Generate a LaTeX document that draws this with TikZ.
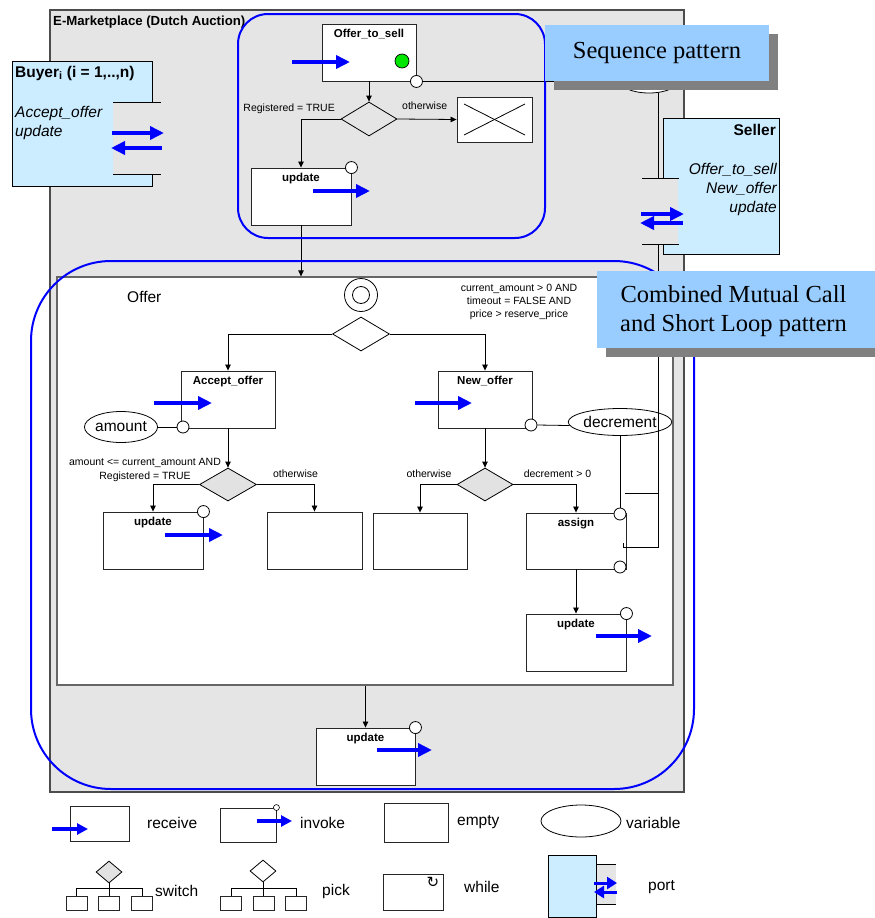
\documentclass[tikz,border=0pt]{standalone}
\usepackage{fontspec}
\setmainfont{Liberation Sans}
\newfontfamily\patternfont{Liberation Serif}
\newfontfamily\glyphfont{DejaVu Sans}
\usetikzlibrary{arrows.meta,shapes.geometric,calc}

\definecolor{areagray}{RGB}{229,229,229}
\definecolor{portblue}{RGB}{204,236,255}
\definecolor{patblue}{RGB}{153,204,255}
\definecolor{shadegray}{RGB}{128,128,128}
\definecolor{okgreen}{RGB}{0,230,0}
\definecolor{switchgray}{RGB}{226,226,226}
\definecolor{msgblue}{RGB}{0,0,255}

\tikzset{
  activitybox/.style={draw=black!85, fill=white, line width=0.9pt, inner sep=0pt},
  boxtitle/.style={font=\fontsize{11.5}{13}\selectfont\bfseries, inner sep=0pt, anchor=base},
  condtext/.style={font=\fontsize{10.5}{13.3}\selectfont, inner sep=0pt, align=center},
  bigtext/.style={font=\fontsize{15.5}{19}\selectfont, inner sep=0pt},
  flowline/.style={draw=black, line width=0.8pt, -{Triangle[length=6pt,width=5.5pt]}},
  linkline/.style={draw=black, line width=0.8pt},
  msgarrow/.style={draw=msgblue, line width=3.5pt, -{Triangle[length=14pt,width=13pt]}},
  portarrow/.style={draw=msgblue, line width=3.8pt, -{Triangle[length=14pt,width=13pt]}},
  smallarrow/.style={draw=msgblue, line width=3.2pt, -{Triangle[length=11pt,width=11pt]}},
  tinyarrow/.style={draw=msgblue, line width=3pt, -{Triangle[length=10pt,width=12pt]}},
  handlecirc/.style={circle, draw=black, fill=white, line width=0.8pt, minimum size=12pt, inner sep=0pt},
  varnode/.style={ellipse, draw=black, fill=white, line width=0.8pt, inner sep=0pt},
  pickshape/.style={diamond, draw=black, line width=0.8pt, inner sep=0pt},
  switchshape/.style={pickshape, fill=switchgray},
  patternframe/.style={draw=msgblue, line width=2pt, inner sep=0pt},
  patternlabel/.style={fill=patblue, inner sep=0pt},
  patterntext/.style={font=\patternfont\fontsize{24.5}{29}\selectfont, align=center, inner sep=0pt},
  portedge/.style={draw=black, line width=0.9pt},
}

\begin{document}
\begin{tikzpicture}[x=1pt,y=-1pt]
\useasboundingbox (0,0) rectangle (875,918);

% ---------- marketplace process ----------
\node[draw=black!70, fill=areagray, line width=1.2pt, minimum width=634pt, minimum height=782pt, inner sep=0pt] (market) at (367,401) {};
\node[anchor=base west, inner sep=0pt, font=\fontsize{13.2}{15}\selectfont\bfseries] (markettitle) at (53,25) {E-Marketplace (Dutch Auction)};

% ---------- sequence part ----------
\node[activitybox, minimum width=94pt, minimum height=57pt] (ots) at (369,52.5) {};
\node[boxtitle] (otstitle) at ($(ots.north)+(0,14)$) {Offer\_to\_sell};
\draw[msgarrow] (292,62) -- (350,62);
\node[circle, draw=black, fill=okgreen, minimum size=14pt, inner sep=0pt, line width=0.7pt] (otsgo) at (402,61) {};
\node[handlecirc] (otsh) at (ots.south east) {};
\node[pickshape, minimum width=56pt, minimum height=34pt] (reg) at (369,119) {};
\node[activitybox, minimum width=75pt, minimum height=45pt] (term) at (494.5,119.5) {};
\draw[linkline] ($(term.center)+(-30.5,-15.5)$) -- ($(term.center)+(30.5,15.5)$);
\draw[linkline] ($(term.center)+(-30.5,15.5)$) -- ($(term.center)+(30.5,-15.5)$);
\node[activitybox, minimum width=100pt, minimum height=57pt] (upa) at (301,196.5) {};
\node[boxtitle] (upatitle) at ($(upa.north)+(0,14)$) {update};
\node[handlecirc] (upah) at (upa.north east) {};
\draw[msgarrow] (313,191) -- (370,191);
\draw[flowline] (ots.south) -- (reg.north);
\draw[flowline] (reg.west) -| (upa.north);
\draw[flowline] (reg.east) -- (term.west);
\node[condtext, anchor=east] (regyes) at (335,109) {Registered = TRUE};
\node[condtext, anchor=west] (regno) at (402,106) {otherwise};

% ---------- Offer scope ----------
\node[draw=black!60, fill=white, line width=1.3pt, minimum width=616pt, minimum height=408pt, inner sep=0pt] (offer) at (365,481) {};
\draw[flowline] (upa.south) -- (upa.south |- offer.north);
\node[bigtext, anchor=west] (offertitle) at (127,297) {Offer};
\node[circle, draw=black, line width=0.8pt, minimum size=33pt, inner sep=0pt] (start) at (361,295) {};
\draw[line width=0.8pt] (start.center) circle[radius=8.5pt];
\node[pickshape, fill=white, minimum width=57pt, minimum height=34pt] (choice) at (361,334) {};
\node[condtext] (choicecond) at (519,302) {current\_amount > 0 AND\\timeout = FALSE AND\\price > reserve\_price};

% Accept_offer branch
\node[activitybox, minimum width=94pt, minimum height=57pt] (acc) at (228,399.5) {};
\node[boxtitle] (acctitle) at ($(acc.north)+(0,14)$) {Accept\_offer};
\draw[msgarrow] (154,403) -- (212,403);
\node[handlecirc] (acch) at (183,427) {};
\node[varnode, minimum width=69pt, minimum height=31pt, font=\fontsize{15.5}{19}\selectfont] (amount) at (121,427) {amount};
\draw[linkline] (amount.east) -- (acch.west);
\draw[flowline] (choice.west) -| (acc.north);
\node[switchshape, minimum width=57pt, minimum height=33pt] (accsw) at (228,484.5) {};
\draw[flowline] (acc.south) -- (accsw.north);
\node[condtext] (accyes) at (145,470) {amount <= current\_amount AND\\Registered = TRUE};
\node[condtext] (accno) at (295.5,473.5) {otherwise};
\node[activitybox, minimum width=100pt, minimum height=57pt] (upb) at (153,540.5) {};
\node[boxtitle] (upbtitle) at ($(upb.north)+(0,14)$) {update};
\node[handlecirc] (upbh) at (upb.north east) {};
\draw[msgarrow] (165,535) -- (223,535);
\draw[flowline] (accsw.west) -| (upb.north);
\node[activitybox, minimum width=95pt, minimum height=57pt] (skipa) at (314.5,540.5) {};
\draw[flowline] (accsw.east) -| (skipa.north);

% New_offer branch
\node[activitybox, minimum width=94pt, minimum height=57pt] (newo) at (485,399.5) {};
\node[boxtitle] (newotitle) at ($(newo.north)+(0,14)$) {New\_offer};
\draw[msgarrow] (415,403) -- (472,403);
\node[handlecirc] (newoh) at (531,425) {};
\node[varnode, minimum width=86pt, minimum height=27pt, font=\fontsize{15.5}{19}\selectfont] (decr) at (620,422) {decrement};
\draw[linkline] (newoh.east) -- (decr.184);
\draw[flowline] (choice.east) -| (newo.north);
\node[switchshape, minimum width=56pt, minimum height=33pt] (newsw) at (485,484.5) {};
\draw[flowline] (newo.south) -- (newsw.north);
\node[condtext] (newno) at (429,474) {otherwise};
\node[condtext] (newyes) at (557.5,474) {decrement > 0};
\node[activitybox, minimum width=94pt, minimum height=56pt] (skipb) at (420,541) {};
\draw[flowline] (newsw.west) -| (skipb.north);
\node[activitybox, minimum width=100pt, minimum height=56pt] (asg) at (576,541) {};
\node[boxtitle] (asgtitle) at ($(asg.north)+(0,14)$) {assign};
\draw[flowline] (newsw.east) -| (asg.north);
\node[handlecirc] (asgin) at (620,514) {};
\node[handlecirc] (asgout) at (620,567) {};
\draw[linkline] (decr.south) -- (decr.south |- asgin.north);
\node[activitybox, minimum width=100pt, minimum height=57pt] (upc) at (576,642.5) {};
\node[boxtitle] (upctitle) at ($(upc.north)+(0,14)$) {update};
\node[handlecirc] (upch) at (upc.north east) {};
\draw[msgarrow] (596,636) -- (652,636);
\draw[flowline] (asg.south) -- (upc.north);

% closing update
\node[activitybox, minimum width=99pt, minimum height=57pt] (upd) at (365.5,756.5) {};
\node[boxtitle] (updtitle) at ($(upd.north)+(0,14)$) {update};
\node[handlecirc] (updh) at (upd.north east) {};
\draw[msgarrow] (377,750) -- (432,750);
\draw[flowline] (upd.north |- offer.south) -- (upd.north);

% ---------- seller link ----------
\node[varnode, minimum width=60pt, minimum height=26pt] (offervar) at (649,80) {};
\draw[linkline] (otsh.east) -- (otsh.east -| offervar.west);
\coordinate (sellerporttop) at (642,178);
\coordinate (vtap) at (offervar.-54);
\draw[linkline] (vtap) -- (vtap |- sellerporttop);
\coordinate (loopa) at (658,244);
\coordinate (loopb) at (658,547);
\coordinate (loopc) at (623,547);
\coordinate (loopd) at (623,543);
\coordinate (loope) at (625,493);
\coordinate (loopf) at (658,493);
\draw[linkline] (loopa) -- (loopb) -- (loopc) -- (loopd);
\draw[linkline] (loope) -- (loopf);

% ---------- Seller port ----------
\fill[portblue] (663,118) -- (779,118) -- (779,254) -- (663,254) -- (663,244) -- (678,244) -- (678,178) -- (663,178) -- cycle;
\draw[portedge] (663,178) -- (663,118) -- (779,118) -- (779,254) -- (663,254) -- (663,244);
\draw[portedge] (642,178) -- (679,178) (642,244) -- (679,244);
\node[anchor=base east, inner sep=0pt, font=\fontsize{15.5}{19}\selectfont\bfseries] (sellername) at (776,135) {Seller};
\node[anchor=base east, inner sep=0pt, font=\fontsize{15.5}{19}\selectfont\itshape] (sellerop1) at (777,174) {Offer\_to\_sell};
\node[anchor=base east, inner sep=0pt, font=\fontsize{15.5}{19}\selectfont\itshape] (sellerop2) at (777,193) {New\_offer};
\node[anchor=base east, inner sep=0pt, font=\fontsize{15.5}{19}\selectfont\itshape] (sellerop3) at (777,212) {update};
\draw[portarrow] (641,214) -- (684,214);
\draw[portarrow] (683,223) -- (640,223);

% ---------- Buyer port ----------
\fill[portblue] (12,61) -- (152,61) -- (152,102) -- (113,102) -- (113,174) -- (152,174) -- (152,186) -- (12,186) -- cycle;
\draw[portedge] (152,102) -- (152,61) -- (12,61) -- (12,186) -- (152,186) -- (152,174);
\draw[portedge] (113,102) -- (161,102) (113,174) -- (161,174);
\node[anchor=base west, inner sep=0pt, font=\fontsize{15.5}{19}\selectfont\bfseries] (buyername) at (15,77) {Buyer\textsubscript{i} (i = 1,..,n)};
\node[anchor=base west, inner sep=0pt, font=\fontsize{15.5}{19}\selectfont\itshape] (buyerop1) at (15,117) {Accept\_offer};
\node[anchor=base west, inner sep=0pt, font=\fontsize{15.5}{19}\selectfont\itshape] (buyerop2) at (15,136) {update};
\draw[portarrow] (112,133) -- (164,133);
\draw[portarrow] (162,148) -- (111,148);

% ---------- pattern frames and labels ----------
\node[patternframe, rounded corners=30pt, minimum width=307pt, minimum height=224pt] (seqpat) at (391.5,126) {};
\node[patternframe, rounded corners=80pt, minimum width=663pt, minimum height=528pt] (mcpat) at (362.5,525) {};
\fill[shadegray] (554,34) rectangle (778,90);
\node[patternlabel, patterntext, minimum width=224pt, minimum height=56pt] (seqlabel) at (657,53) {Sequence pattern};
\fill[shadegray] (606,280) rectangle (884,357);
\node[patternlabel, minimum width=283pt, minimum height=77pt] (mclabel) at (738.5,309.5) {};
\node[patterntext] (mctext) at (733.5,311) {Combined Mutual Call\\and Short Loop pattern};

% ---------- legend ----------
\node[activitybox, minimum width=59pt, minimum height=35pt] (lgrecv) at (99.5,823.5) {};
\draw[smallarrow] (52,829) -- (88,829);
\node[bigtext, anchor=west] (lgrecvt) at (147,823) {receive};
\node[activitybox, minimum width=56pt, minimum height=34pt] (lginv) at (248,825) {};
\node[circle, draw=black, fill=white, minimum size=6pt, inner sep=0pt, line width=0.6pt] (lginvh) at (lginv.north east) {};
\draw[smallarrow] (257,821) -- (292,821);
\node[bigtext, anchor=west] (lginvt) at (300,823) {invoke};
\node[activitybox, minimum width=64pt, minimum height=39pt] (lgempty) at (416,822.5) {};
\node[bigtext, anchor=west] (lgemptyt) at (457,822) {empty};
\node[varnode, minimum width=80pt, minimum height=32pt] (lgvar) at (581,821) {};
\node[bigtext, anchor=west] (lgvart) at (626,823) {variable};

% switch
\node[switchshape, minimum width=26pt, minimum height=22pt] (lgsw) at (109,872) {};
\node[activitybox, minimum width=21pt, minimum height=14pt] (lgswa) at (76.5,903.5) {};
\node[activitybox, minimum width=21pt, minimum height=14pt] (lgswb) at (109,903.5) {};
\node[activitybox, minimum width=21pt, minimum height=14pt] (lgswc) at (142,903.5) {};
\coordinate (lgswbar) at (109,888);
\draw[linkline] (lgsw.south) -- (lgswbar);
\draw[linkline] (lgswa.north) -- (lgswa.north |- lgswbar) -- (lgswc.north |- lgswbar) -- (lgswc.north);
\draw[linkline] (lgswb.north) -- (lgswbar);
\node[bigtext, anchor=west] (lgswt) at (155,891) {switch};

% pick
\node[pickshape, fill=white, minimum width=26pt, minimum height=22pt] (lgpk) at (263,871) {};
\node[activitybox, minimum width=21pt, minimum height=14pt] (lgpka) at (231,903.5) {};
\node[activitybox, minimum width=21pt, minimum height=14pt] (lgpkb) at (263.5,903.5) {};
\node[activitybox, minimum width=21pt, minimum height=14pt] (lgpkc) at (296,903.5) {};
\coordinate (lgpkbar) at (263,888);
\draw[linkline] (lgpk.south) -- (lgpkbar);
\draw[linkline] (lgpka.north) -- (lgpka.north |- lgpkbar) -- (lgpkc.north |- lgpkbar) -- (lgpkc.north);
\draw[linkline] (lgpkb.north) -- (lgpkb.north |- lgpkbar);
\node[bigtext, anchor=west] (lgpkt) at (322,891) {pick};

% while
\node[activitybox, minimum width=60pt, minimum height=36pt] (lgwhile) at (413,892) {};
\node[inner sep=0pt, font=\glyphfont\fontsize{15}{15}\selectfont] (lgloop) at (433,882) {↻};
\node[bigtext, anchor=west] (lgwhilet) at (464,887) {while};

% port
\fill[areagray] (596,864) rectangle (616,904);
\draw[portedge] (596,864) -- (616,864) (596,904) -- (616,904);
\node[draw=black, line width=0.9pt, fill=portblue, minimum width=48pt, minimum height=62pt, inner sep=0pt] (lgport) at (572,886) {};
\draw[tinyarrow] (594,883) -- (617,883);
\draw[tinyarrow] (617,892) -- (594,892);
\node[bigtext, anchor=west] (lgportt) at (648,887) {port};

\end{tikzpicture}
\end{document}
